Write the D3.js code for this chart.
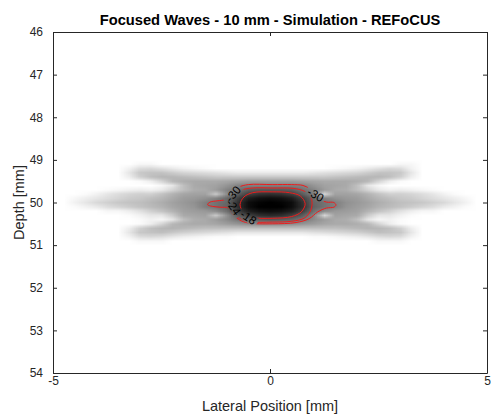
<!DOCTYPE html>
<html><head><meta charset="utf-8">
<script src="https://cdn.jsdelivr.net/npm/d3@7"></script>
<style>
html,body{margin:0;padding:0;background:#fff;}
svg{display:block;font-family:"Liberation Sans",Arial,Helvetica,sans-serif;}
</style></head><body>
<svg id="chart" width="491" height="418"></svg>
<script>
// ---------- data ----------
const titleText = "Focused Waves - 10 mm - Simulation - REFoCUS";
const xLabelText = "Lateral Position [mm]";
const yLabelText = "Depth [mm]";
const xTicks = [-5, 0, 5];
const yTicks = [46, 47, 48, 49, 50, 51, 52, 53, 54];

// image grid (lateral columns, depth rows) and drop below peak in dB
const lateralMm = [-5,-4.75,-4.5,-4.25,-4,-3.75,-3.5,-3.25,-3,-2.75,-2.5,-2.25,-2,-1.75,-1.5,-1.25,-1,-0.75,-0.5,-0.25,0,
  0.25,0.5,0.75,1,1.25,1.5,1.75,2,2.25,2.5,2.75,3,3.25,3.5,3.75,4,4.25,4.5,4.75,5];
const depthMm = [49.0,49.1,49.2,49.3,49.4,49.5,49.6,49.7,49.8,49.9,50.0,50.1,50.2,50.3,50.4,50.5,50.6,50.7,50.8,50.9,51.0];
const psfDropDb = [
 [60,60,60,60,60,60,60,60,60,60,60,60,60,60,60,60,60,60,60,60,60,60,60,60,60,60,60,60,60,60,60,60,60,60,60,60,60,60,60,60,60],
 [60,60,60,60,60,60,60,60,58,58,60,60,60,60,60,60,60,60,60,60,60,60,60,60,60,60,60,60,60,60,60,60,58,58,60,60,60,60,60,60,60],
 [60,60,60,60,60,60,60,57,52,51,53,55,57,58,59,60,60,60,60,60,60,60,60,60,60,60,59,58,57,55,53,51,52,57,60,60,60,60,60,60,60],
 [60,60,60,60,60,60,60,54,47,46,46,48,50,51,52,53,54,55,55,55,55,55,55,55,54,53,52,51,50,48,46,46,47,54,60,60,60,60,60,60,60],
 [60,60,60,60,60,60,60,56,49,45,43,43,44,45,46,47,47,47,47,47,47,47,47,47,47,47,46,45,44,43,43,45,49,56,60,60,60,60,60,60,60],
 [60,60,60,60,60,60,60,60,59,56,50,43,41,40,40,40,39,38,37,37,37,37,37,38,39,40,40,40,41,43,50,56,59,60,60,60,60,60,60,60,60],
 [60,60,60,60,60,60,60,60,60,60,58,54,45,40,39,38,35,31,30,30,30,30,30,31,35,38,39,40,45,54,58,60,60,60,60,60,60,60,60,60,60],
 [60,60,60,60,60,59,58,57,56,57,55,50,45,41,40,37,31,27,22,21,21,21,22,27,31,37,40,41,45,50,55,57,56,57,58,59,60,60,60,60,60],
 [60,60,60,59,57,54,52,50,49,49,46,42,39,38,38,47,33,22,15,12,11,12,15,22,30,50,38,38,39,42,46,49,49,50,52,54,57,59,60,60,60],
 [60,60,58,56,54,52,50,48,47,45,43,40,37,36,34,31,25,15,7,4,3,4,7,15,25,31,34,36,37,40,43,45,47,48,50,52,54,56,58,60,60],
 [60,60,57,54,51,49,47,46,45,43,41,38,36,34,30,27,24,12,3,1,0,1,3,12,24,27,30,34,36,38,41,43,45,46,47,49,51,54,57,60,60],
 [60,60,59,57,55,52,50,48,46,44,42,39,37,35,30,27,23,11,3,0,0,0,3,11,23,27,30,35,37,39,42,44,46,48,50,52,55,57,59,60,60],
 [60,60,60,60,60,58,58,56,53,49,46,42,38,37,36,33,26,15,7,4,3,4,7,15,26,33,36,37,38,42,46,49,53,56,58,58,60,60,60,60,60],
 [60,60,60,60,60,60,60,59,57,54,54,48,40,39,38,47,34,22,15,11,10,11,15,22,31,50,38,39,40,48,54,54,57,59,60,60,60,60,60,60,60],
 [60,60,60,60,60,60,60,60,59,57,58,54,45,41,40,37,33,28,24,22,21,22,24,28,33,37,40,41,45,54,58,57,59,60,60,60,60,60,60,60,60],
 [60,60,60,60,60,60,60,60,59,56,50,43,41,40,40,39,37,35,33,32,32,32,33,35,37,39,40,40,41,43,50,56,59,60,60,60,60,60,60,60,60],
 [60,60,60,60,60,60,60,56,49,45,43,42,43,44,45,45,45,45,45,45,45,45,45,45,45,45,45,44,43,42,43,45,49,56,60,60,60,60,60,60,60],
 [60,60,60,60,60,60,60,54,47,46,45,47,49,50,51,52,53,54,54,54,54,54,54,54,53,52,51,50,49,47,45,46,47,54,60,60,60,60,60,60,60],
 [60,60,60,60,60,60,60,57,52,51,52,54,56,57,58,59,59,60,60,60,60,60,60,60,59,59,58,57,56,54,52,51,52,57,60,60,60,60,60,60,60],
 [60,60,60,60,60,60,60,60,58,58,58,60,60,60,60,60,60,60,60,60,60,60,60,60,60,60,60,60,60,60,58,58,58,60,60,60,60,60,60,60,60],
 [60,60,60,60,60,60,60,60,60,60,60,60,60,60,60,60,60,60,60,60,60,60,60,60,60,60,60,60,60,60,60,60,60,60,60,60,60,60,60,60,60]
];

// contour lines [lateral mm, depth mm]
const contour30 = [[0.05,49.58],[0.5,49.58],[0.76,49.6],[0.92,49.68],[1.04,49.8],[1.16,49.93],[1.3,49.99],[1.47,50.0],[1.52,50.06],[1.47,50.11],[1.3,50.13],[1.1,50.22],[0.9,50.38],[0.6,50.47],[0.05,50.5],[-0.5,50.48],[-0.7,50.41],[-0.86,50.27],[-0.96,50.13],[-1.15,50.11],[-1.33,50.09],[-1.44,50.05],[-1.38,49.99],[-1.2,49.96],[-1.04,49.93],[-0.9,49.77],[-0.72,49.64],[-0.5,49.58]];
const contour24 = [[0.05,49.66],[0.55,49.67],[0.8,49.74],[0.93,49.87],[0.97,50.01],[0.93,50.2],[0.8,50.36],[0.5,50.44],[0.05,50.46],[-0.45,50.45],[-0.7,50.36],[-0.84,50.2],[-0.88,50.03],[-0.82,49.85],[-0.65,49.71],[-0.4,49.66]];
const contour18 = [[0.05,49.75],[0.45,49.77],[0.7,49.85],[0.81,50.03],[0.72,50.22],[0.5,50.33],[0.05,50.37],[-0.4,50.35],[-0.6,50.25],[-0.69,50.05],[-0.6,49.87],[-0.4,49.77]];
const contourLabelText = ["-30", "-24", "-18", "-30"];
const contourLabelX = [-0.85, -0.84, -0.5, 1.05];
const contourLabelDepth = [49.8, 50.11, 50.35, 49.82];
const contourLabelAngle = [-50, 55, 34, 30];

// ---------- layout ----------
const W = 491, H = 418;
const plot = {left: 53, right: 487, top: 32, bottom: 373};
const svg = d3.select("#chart");
const x = d3.scaleLinear().domain([-5, 5]).range([plot.left, plot.right]);
const y = d3.scaleLinear().domain([46, 54]).range([plot.top, plot.bottom]);
const gray = d3.scaleLinear().domain([-60, 0]).range([255, 0]).clamp(true);
const axisColor = "#262626";
const fmt = d => String(d);

svg.append("rect").attr("width", W).attr("height", H).attr("fill", "#fff");

const defs = svg.append("defs");
defs.append("clipPath").attr("id", "plotClip").append("rect")
  .attr("x", plot.left).attr("y", plot.top)
  .attr("width", plot.right - plot.left).attr("height", plot.bottom - plot.top);

// ---------- image ----------
const nc = lateralMm.length, nr = depthMm.length;
const cv = document.createElement("canvas");
cv.width = nc; cv.height = nr;
const ctx = cv.getContext("2d");
const img = ctx.createImageData(nc, nr);
for (let j = 0; j < nr; j++) {
  for (let i = 0; i < nc; i++) {
    const g = Math.round(gray(-psfDropDb[j][i]));
    const k = 4 * (j * nc + i);
    img.data[k] = g; img.data[k + 1] = g; img.data[k + 2] = g; img.data[k + 3] = 255;
  }
}
ctx.putImageData(img, 0, 0);
const hx = (lateralMm[1] - lateralMm[0]) / 2, hy = (depthMm[1] - depthMm[0]) / 2;
svg.append("g").attr("clip-path", "url(#plotClip)")
  .append("image")
  .attr("href", cv.toDataURL())
  .attr("x", x(lateralMm[0] - hx)).attr("y", y(depthMm[0] - hy))
  .attr("width", x(lateralMm[nc - 1] + hx) - x(lateralMm[0] - hx))
  .attr("height", y(depthMm[nr - 1] + hy) - y(depthMm[0] - hy))
  .attr("preserveAspectRatio", "none")
  .style("image-rendering", "auto");

// ---------- contour labels mask ----------
const labels = contourLabelText.map((t, i) => ({t, x: contourLabelX[i], d: contourLabelDepth[i], a: contourLabelAngle[i]}));
const mask = defs.append("mask").attr("id", "labelMask").attr("maskUnits", "userSpaceOnUse")
  .attr("x", 0).attr("y", 0).attr("width", W).attr("height", H);
mask.append("rect").attr("x", 0).attr("y", 0).attr("width", W).attr("height", H).attr("fill", "#fff");
labels.forEach(l => {
  mask.append("rect").attr("x", -10.5).attr("y", -5).attr("width", 21).attr("height", 10).attr("fill", "#000")
    .attr("transform", `translate(${x(l.x)},${y(l.d)}) rotate(${l.a})`);
});

const line = d3.line().x(d => x(d[0])).y(d => y(d[1])).curve(d3.curveCatmullRomClosed.alpha(0.5));
const cg = svg.append("g").attr("clip-path", "url(#plotClip)").append("g").attr("mask", "url(#labelMask)");
[contour30, contour24, contour18].forEach(c => {
  cg.append("path").attr("d", line(c)).attr("fill", "none").attr("stroke", "#ee1c1c").attr("stroke-width", 1);
});
svg.append("g").selectAll("text").data(labels).join("text")
  .attr("transform", l => `translate(${x(l.x)},${y(l.d)}) rotate(${l.a})`)
  .attr("text-anchor", "middle").attr("dy", "0.35em")
  .attr("font-size", 11.5).attr("fill", "#000").text(l => l.t);

// ---------- axes ----------
function styleAxis(g) {
  g.selectAll("path.domain").attr("stroke", axisColor);
  g.selectAll(".tick line").attr("stroke", axisColor);
  g.selectAll(".tick text").attr("fill", axisColor).attr("font-size", 12)
    .attr("font-family", '"Liberation Sans",Arial,Helvetica,sans-serif');
}
svg.append("g").attr("transform", `translate(0,${plot.bottom})`)
  .call(d3.axisBottom(x).tickValues(xTicks).tickFormat(fmt).tickSizeInner(-4).tickSizeOuter(0).tickPadding(3.5))
  .call(styleAxis);
svg.append("g").attr("transform", `translate(0,${plot.top})`)
  .call(d3.axisTop(x).tickValues(xTicks).tickFormat("").tickSizeInner(-4).tickSizeOuter(0))
  .call(styleAxis);
svg.append("g").attr("transform", `translate(${plot.left},0)`)
  .call(d3.axisLeft(y).tickValues(yTicks).tickFormat(fmt).tickSizeInner(-4).tickSizeOuter(0).tickPadding(10))
  .call(styleAxis);
svg.append("g").attr("transform", `translate(${plot.right},0)`)
  .call(d3.axisRight(y).tickValues(yTicks).tickFormat("").tickSizeInner(-4).tickSizeOuter(0))
  .call(styleAxis);

// ---------- titles ----------
svg.append("text").attr("x", x(0)).attr("y", 25).attr("text-anchor", "middle")
  .attr("font-size", 14.7).attr("font-weight", "bold").attr("fill", "#000").text(titleText);
svg.append("text").attr("x", x(0)).attr("y", 411).attr("text-anchor", "middle")
  .attr("font-size", 14.5).attr("fill", axisColor).text(xLabelText);
svg.append("text").attr("transform", `translate(24,${y(50)}) rotate(-90)`).attr("text-anchor", "middle")
  .attr("font-size", 14.5).attr("fill", axisColor).text(yLabelText);
</script>
</body></html>
